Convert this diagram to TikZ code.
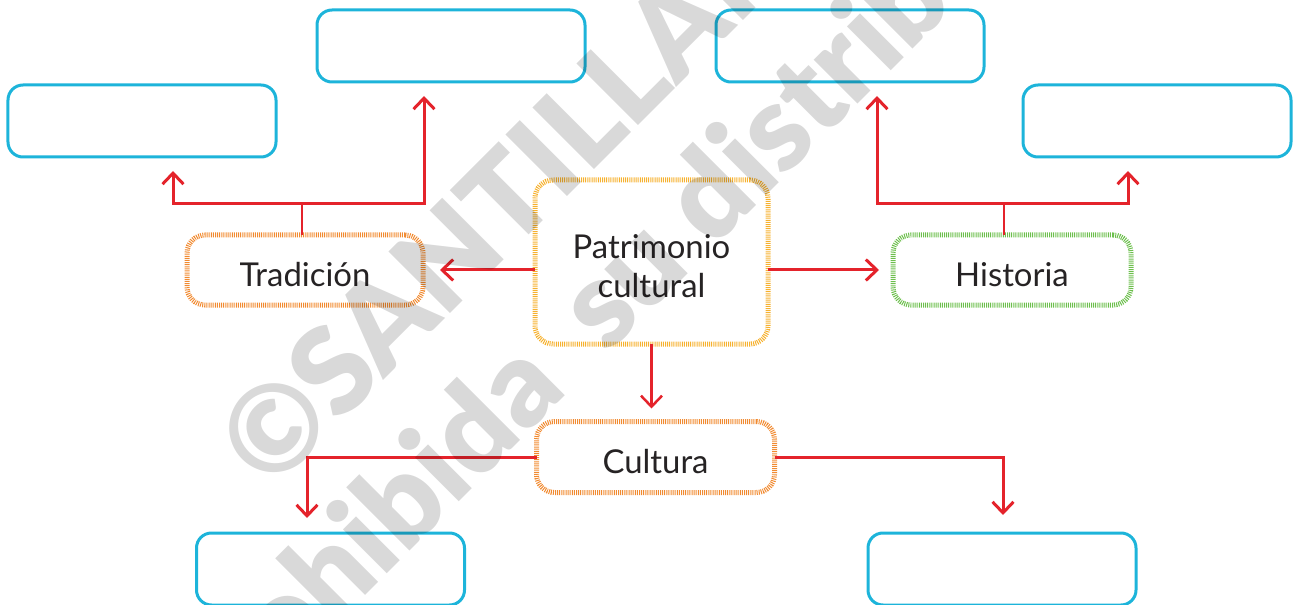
\documentclass[tikz,border=0pt]{standalone}
\usepackage{fontspec}
\setmainfont{Lato}
\IfFontExistsTF{Lato Black}{\newfontfamily\wmfont{Lato Black}\newcommand\wmweight{}}{\newfontfamily\wmfont{Lato}\newcommand\wmweight{\bfseries}}
\usetikzlibrary{arrows.meta}
\definecolor{cy}{HTML}{1DB4DA}
\definecolor{rd}{HTML}{E4232B}
\definecolor{og}{HTML}{F18A30}
\definecolor{yo}{HTML}{F6B12E}
\definecolor{gr}{HTML}{6CBF4C}
\definecolor{tx}{HTML}{262324}
\begin{document}
\begin{tikzpicture}[x={(1bp,0bp)},y={(0bp,-1bp)},
  cbox/.style={draw=cy, line width=3bp, rounded corners=15bp, minimum width=268bp, minimum height=72bp, inner sep=0pt, outer sep=0pt},
  dbox/.style={line width=5bp, dash pattern=on 1bp off 1.1bp, rounded corners=18bp, inner sep=0pt, outer sep=0pt, text=tx, font=\fontsize{33}{39}\selectfont, align=center},
  arr/.style={draw=rd, line width=3bp, line join=miter, -{Straight Barb[length=11bp,width=21bp]}},
  arrb/.style={draw=rd, line width=3bp, line join=miter, {Straight Barb[length=11bp,width=21bp]}-{Straight Barb[length=11bp,width=21bp]}},
  stub/.style={draw=rd, line width=1.8bp},
  wm/.style={text=black, text opacity=0.15, rotate=45, font=\wmfont\wmweight\fontsize{120}{120}\selectfont, inner sep=0pt}]
\useasboundingbox (0,0) rectangle (1297,605);
% answer boxes
\node[cbox] (c1) at (142,121) {};
\node[cbox] (c2) at (451,46) {};
\node[cbox] (c3) at (850,46) {};
\node[cbox] (c4) at (1157,121) {};
\node[cbox] (c5) at (330.5,569) {};
\node[cbox] (c6) at (1002,569) {};
% concept boxes
\node[dbox, draw=yo, minimum width=233bp, minimum height=164bp, text height=70bp, text depth=0bp] (pat) at (651.5,262) {Patrimonio\\cultural};
\node[dbox, draw=og, minimum width=236bp, minimum height=70bp, text height=32bp, text depth=0bp] (tra) at (305,270) {Tradición};
\node[dbox, draw=gr, minimum width=238bp, minimum height=70bp, text height=32bp, text depth=0bp] (his) at (1012,270) {Historia};
\node[dbox, draw=og, minimum width=238bp, minimum height=71bp, text height=32bp, text depth=0bp] (cul) at (655.5,457) {Cultura};
% junctions
\coordinate (tl) at (173,204);
\coordinate (tr) at (424,204);
\coordinate (tm) at (302,204);
\coordinate (hl) at (877,204);
\coordinate (hr) at (1128,204);
\coordinate (hm) at (1004,204);
\coordinate (bl) at (307,457);
\coordinate (br) at (1003,457);
% connectors
\draw[arr, shorten >=17bp] (tra.east -| pat.west) -- (tra.east);
\draw[arr, shorten >=14bp] (his.west -| pat.east) -- (his.west);
\draw[arr, line width=2.5bp, shorten >=13bp] (pat.south) -- (pat.south |- cul.north);
\draw[stub] (tm |- tra.north) -- (tm);
\draw[arrb, shorten <=14bp, shorten >=14bp] (tl |- c1.south) -- (tl) -- (tr) -- (tr |- c2.south);
\draw[stub] (hm |- his.north) -- (hm);
\draw[arrb, shorten <=14bp, shorten >=14bp] (hl |- c3.south) -- (hl) -- (hr) -- (hr |- c4.south);
\draw[arr, shorten >=15bp] (cul.west) -- (bl) -- (bl |- c5.north);
\draw[arr, shorten >=18bp] (cul.east) -- (br) -- (br |- c6.north);
% watermark
\node[wm, anchor=base west] (wm1) at (270,494) {©SANTILLANA};
\node[wm, anchor=base east] (wm2) at (569,392) {Prohibida};
\node[wm, anchor=base west] (wm3) at (607,355) {su distribución};
\end{tikzpicture}
\end{document}
